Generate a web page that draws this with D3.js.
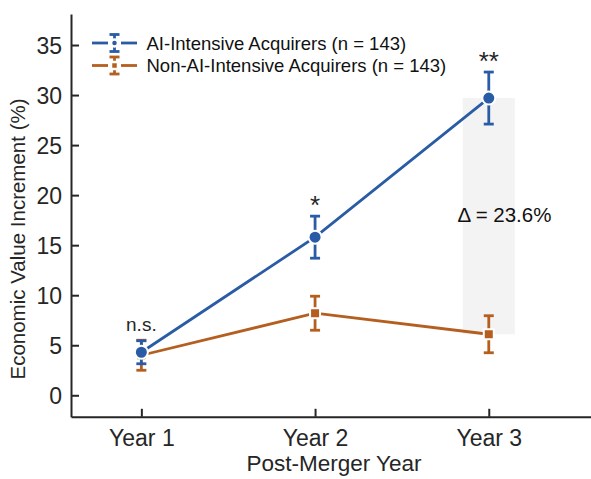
<!DOCTYPE html>
<html>
<head>
<meta charset="utf-8">
<script src="https://d3js.org/d3.v7.min.js"></script>
<style>
  body { margin: 0; background: #ffffff; }
  svg { display: block; font-family: "Liberation Sans", Arial, sans-serif; }
</style>
</head>
<body>
<div id="chart"></div>
<script>
// chart values
var years = ["Year 1", "Year 2", "Year 3"];
var aiMean = [4.3, 15.8, 29.7];
var aiErr = [1.15, 2.1, 2.6];
var nonAiMean = [4.0, 8.2, 6.1];
var nonAiErr = [1.5, 1.7, 1.85];
var sigLabels = ["n.s.", "*", "**"];
var yTicks = [0, 5, 10, 15, 20, 25, 30, 35];
var legendLabels = ["AI-Intensive Acquirers (n = 143)", "Non-AI-Intensive Acquirers (n = 143)"];
var deltaLabel = "\u0394 = 23.6%";

var blue = "#2a5ca5";
var orange = "#b45f1f";
var axisColor = "#262626";

var w = 591, h = 479;
var svg = d3.select("#chart").append("svg")
    .attr("width", w)
    .attr("height", h);

var x = d3.scaleLinear().domain([0.595, 3.6]).range([71, 593]);
var y = d3.scaleLinear().domain([-2.15, 38.1]).range([416.8, 14]);

// shaded gap between the two groups in year 3
svg.append("rect")
    .attr("x", x(2.85))
    .attr("width", x(3.15) - x(2.85))
    .attr("y", y(aiMean[2]))
    .attr("height", y(nonAiMean[2]) - y(aiMean[2]))
    .attr("fill", "#f3f3f3");

svg.append("text")
    .attr("x", x(3.09))
    .attr("y", y((aiMean[2] + nonAiMean[2]) / 2) + 6)
    .attr("text-anchor", "middle")
    .attr("font-size", 20.5)
    .attr("fill", "#111")
    .text(deltaLabel);

// axes (ticks point inward)
var yAxis = svg.append("g")
    .attr("transform", "translate(71,0)")
    .call(d3.axisLeft(y).tickValues(yTicks).tickSizeInner(-8).tickSizeOuter(0));
var xAxis = svg.append("g")
    .attr("transform", "translate(0,416.8)")
    .call(d3.axisBottom(x).tickValues([1, 2, 3]).tickFormat(function(d) { return years[d - 1]; })
        .tickSizeInner(-8).tickSizeOuter(0));

[yAxis, xAxis].forEach(function(a) {
    a.select(".domain").attr("stroke", axisColor).attr("stroke-width", 2);
    a.selectAll(".tick line").attr("stroke", axisColor).attr("stroke-width", 2);
    a.selectAll(".tick text")
        .attr("fill", axisColor)
        .attr("font-size", 23)
        .attr("font-family", "Liberation Sans, Arial, sans-serif");
});
yAxis.selectAll(".tick text").attr("x", -9).attr("dy", "0.35em");
xAxis.selectAll(".tick text").attr("y", 29).attr("dy", 0);

svg.append("text")
    .attr("x", 334)
    .attr("y", 471.2)
    .attr("text-anchor", "middle")
    .attr("font-size", 22.5)
    .attr("fill", axisColor)
    .text("Post-Merger Year");

svg.append("text")
    .attr("transform", "translate(25,239) rotate(-90)")
    .attr("text-anchor", "middle")
    .attr("font-size", 20.5)
    .attr("fill", axisColor)
    .text("Economic Value Increment (%)");

// series
var series = [
    { mean: nonAiMean, err: nonAiErr, color: orange, shape: "square" },
    { mean: aiMean, err: aiErr, color: blue, shape: "circle" }
];

var line = d3.line()
    .x(function(d, i) { return x(i + 1); })
    .y(function(d) { return y(d); });

series.forEach(function(s) {
    var g = svg.append("g");
    g.append("path")
        .datum(s.mean)
        .attr("d", line)
        .attr("fill", "none")
        .attr("stroke", s.color)
        .attr("stroke-width", 2.8);

    var bars = g.selectAll("g.err")
        .data(s.mean)
        .enter()
        .append("g")
        .attr("class", "err");
    bars.append("line")
        .attr("x1", function(d, i) { return x(i + 1); })
        .attr("x2", function(d, i) { return x(i + 1); })
        .attr("y1", function(d, i) { return y(d + s.err[i]); })
        .attr("y2", function(d, i) { return y(d - s.err[i]); })
        .attr("stroke", s.color)
        .attr("stroke-width", 2.8);
    [1, -1].forEach(function(sign) {
        bars.append("line")
            .attr("x1", function(d, i) { return x(i + 1) - 5; })
            .attr("x2", function(d, i) { return x(i + 1) + 5; })
            .attr("y1", function(d, i) { return y(d + sign * s.err[i]); })
            .attr("y2", function(d, i) { return y(d + sign * s.err[i]); })
            .attr("stroke", s.color)
            .attr("stroke-width", 2.8);
    });

    if (s.shape == "circle") {
        g.selectAll("circle")
            .data(s.mean)
            .enter()
            .append("circle")
            .attr("cx", function(d, i) { return x(i + 1); })
            .attr("cy", function(d) { return y(d); })
            .attr("r", 6.5)
            .attr("fill", s.color)
            .attr("stroke", "#fff")
            .attr("stroke-width", 2);
    } else {
        g.selectAll("rect")
            .data(s.mean)
            .enter()
            .append("rect")
            .attr("x", function(d, i) { return x(i + 1) - 5; })
            .attr("y", function(d) { return y(d) - 5; })
            .attr("width", 10)
            .attr("height", 10)
            .attr("fill", s.color)
            .attr("stroke", "#fff")
            .attr("stroke-width", 2);
    }
});

// significance marks above the AI series
svg.selectAll("text.sig")
    .data(sigLabels)
    .enter()
    .append("text")
    .attr("class", "sig")
    .attr("x", function(d, i) { return x(i + 1); })
    .attr("y", function(d, i) {
        var top = Math.max(aiMean[i] + aiErr[i], nonAiMean[i] + nonAiErr[i]);
        return d == "n.s." ? y(top) - 9 : y(top) - 2;
    })
    .attr("text-anchor", "middle")
    .attr("font-size", function(d) { return d == "n.s." ? 19 : 26; })
    .attr("fill", axisColor)
    .text(function(d) { return d; });

// legend
var legend = svg.append("g");
var legendColors = [blue, orange];
var legendShapes = ["circle", "square"];
legendLabels.forEach(function(label, i) {
    var ly = 43 + i * 22.5;
    var row = legend.append("g").attr("transform", "translate(0," + ly + ")");
    var c = legendColors[i];
    row.append("line").attr("x1", 92).attr("x2", 108).attr("y1", 0).attr("y2", 0)
        .attr("stroke", c).attr("stroke-width", 2.8);
    row.append("line").attr("x1", 121).attr("x2", 137).attr("y1", 0).attr("y2", 0)
        .attr("stroke", c).attr("stroke-width", 2.8);
    row.append("line").attr("x1", 114.5).attr("x2", 114.5).attr("y1", -8.5).attr("y2", 8.5)
        .attr("stroke", c).attr("stroke-width", 2.8);
    [-8.5, 8.5].forEach(function(cy) {
        row.append("line").attr("x1", 109.5).attr("x2", 119.5).attr("y1", cy).attr("y2", cy)
            .attr("stroke", c).attr("stroke-width", 2.8);
    });
    if (legendShapes[i] == "circle") {
        row.append("circle").attr("cx", 114.5).attr("cy", 0).attr("r", 3.5)
            .attr("fill", c).attr("stroke", "#fff").attr("stroke-width", 2.5);
    } else {
        row.append("rect").attr("x", 111).attr("y", -3.5).attr("width", 7).attr("height", 7)
            .attr("fill", c).attr("stroke", "#fff").attr("stroke-width", 2.5);
    }
    row.append("text")
        .attr("x", 146.5)
        .attr("y", 6.5)
        .attr("font-size", 18.5)
        .attr("fill", "#111")
        .text(label);
});
</script>
</body>
</html>
